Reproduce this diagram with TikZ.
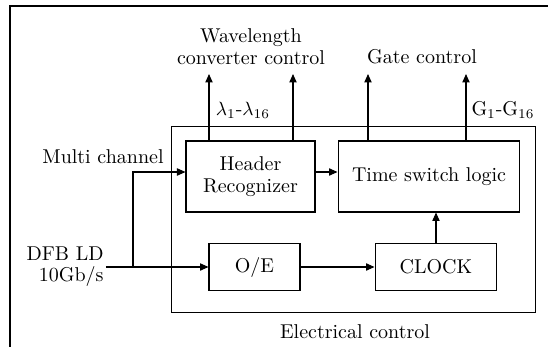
\documentclass[tikz,border=0pt]{standalone}
\usetikzlibrary{arrows.meta}
\begin{document}
\begin{tikzpicture}[x=0.52pt, y=-0.52pt, line width=0.55pt,
    >={Triangle[length=4.4pt,width=3.8pt]},
    every node/.style={font=\fontsize{10.4}{11.2}\selectfont},
    blk/.style={draw, line width=0.55pt, align=center, inner sep=0pt}]

    \useasboundingbox (0,0) rectangle (549,347);

    % Frame
    \draw[line width=0.7pt] (10,347) -- (10,6) -- (548,6);

    % Node definitions
    \node (ec)  at (353.5,219.5) [blk, minimum width=188.8pt, minimum height=97.2pt] {};
    \node (hdr) at (250.5,176.5) [blk, minimum width=67.1pt, minimum height=36.9pt] {Header\\Recognizer};
    \node (tsl) at (429,176.5) [blk, minimum width=94.6pt, minimum height=36.9pt] {Time switch logic};
    \node (oe)  at (254.5,267) [blk, minimum width=47.3pt, minimum height=24.7pt] {O/E};
    \node (clk) at (436,267) [blk, minimum width=63.4pt, minimum height=24.7pt] {CLOCK};

    % Labels
    \node (dfb) at (106,266.5) [anchor=east, align=right, inner sep=1pt] {DFB LD\\10Gb/s};
    \node (mch) at (103,157) {Multi channel};
    \node (wcc) at (251,46.5) [align=center] {Wavelength\\converter control};
    \node (gc)  at (422,57) {Gate control};
    \node (lam) at (243,110) {$\lambda_1$-$\lambda_{16}$};
    \node (gg)  at (503,110) {G$_1$-G$_{16}$};
    \node (ecl) at (355,332) {Electrical control};

    % Free ends of the connectors
    \coordinate (w1) at (209,74);
    \coordinate (w2) at (293,74);
    \coordinate (g1) at (368,74);
    \coordinate (g2) at (466,74);
    \coordinate (br) at (133,267);
    \coordinate (mc) at (133,172);

    % Edge definitions
    \draw[->] (dfb.east |- br) -- (oe.west);
    \draw[->] (br) -- (mc) -- (mc -| hdr.west);
    \draw[->] (mc -| hdr.east) -- (mc -| tsl.west);
    \draw[->] (oe.east) -- (clk.west);
    \draw[->] (clk.north) -- (clk.north |- tsl.south);
    \draw[->] (w1 |- hdr.north) -- (w1);
    \draw[->] (w2 |- hdr.north) -- (w2);
    \draw[->] (g1 |- tsl.north) -- (g1);
    \draw[->] (g2 |- tsl.north) -- (g2);
\end{tikzpicture}
\end{document}
